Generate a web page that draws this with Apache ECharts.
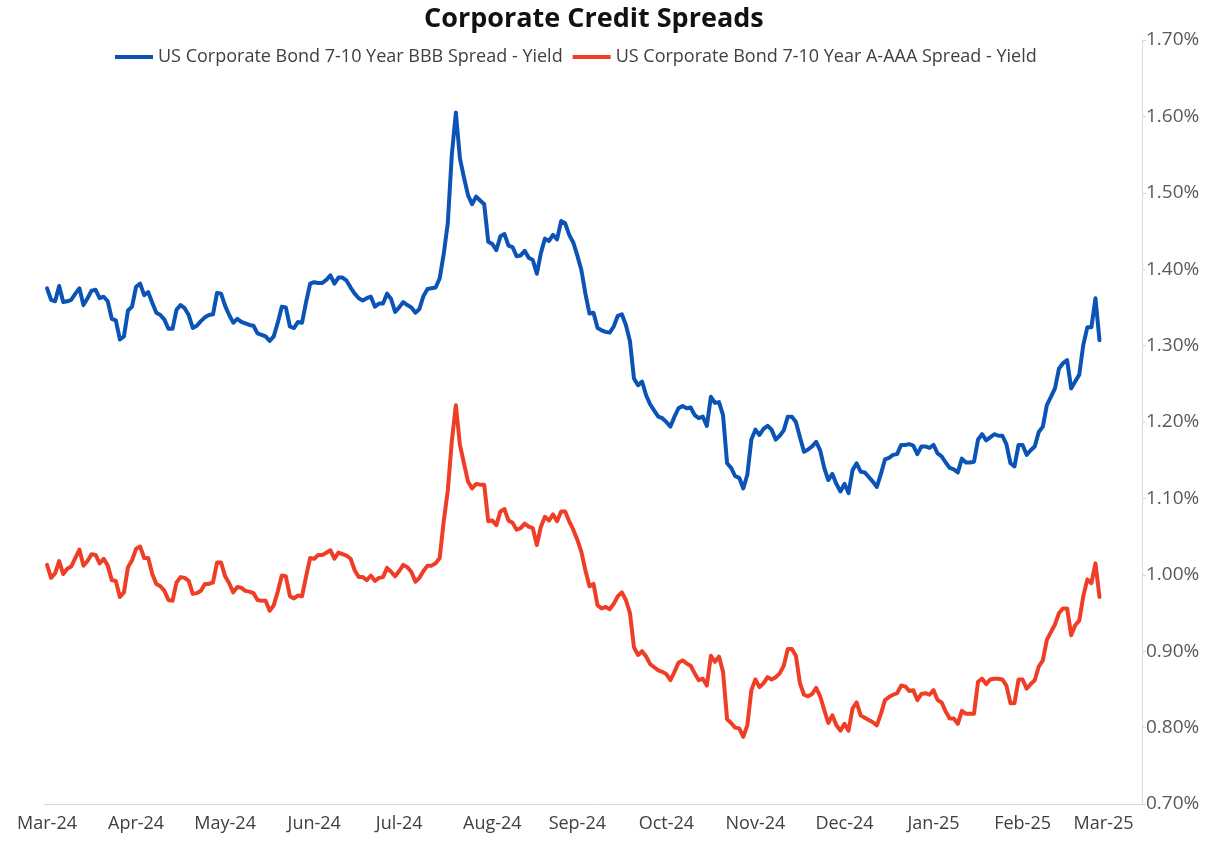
<!DOCTYPE html>
<html>
<head>
<meta charset="utf-8">
<title>Corporate Credit Spreads</title>
<script src="https://cdn.jsdelivr.net/npm/echarts@6/dist/echarts.min.js"></script>
<style>
  html, body { margin: 0; padding: 0; background: #fff; }
  .chart { width: 1210px; height: 843px; }
</style>
</head>
<body>
<div class="chart"></div>
<script>
// axis range (business days, weekends skipped)
var startDay = "2024-03-15";
var endDay = "2025-03-28";
var monthLabels = ["Mar-24", "Apr-24", "May-24", "Jun-24", "Jul-24", "Aug-24", "Sep-24",
  "Oct-24", "Nov-24", "Dec-24", "Jan-25", "Feb-25", "Mar-25"];
var seriesNames = ["US Corporate Bond 7-10 Year BBB Spread - Yield",
  "US Corporate Bond 7-10 Year A-AAA Spread - Yield"];

// BBB spread, % (one value per business day from startDay)
var bbbData = [
  1.375, 1.360, 1.358, 1.378, 1.357, 1.358, 1.360, 1.368, 1.375, 1.353,
  1.362, 1.372, 1.373, 1.362, 1.364, 1.358, 1.335, 1.333, 1.308, 1.312,
  1.346, 1.351, 1.377, 1.381, 1.366, 1.370, 1.356, 1.343, 1.340, 1.334,
  1.322, 1.322, 1.347, 1.353, 1.349, 1.340, 1.323, 1.326, 1.332, 1.337,
  1.340, 1.341, 1.369, 1.368, 1.352, 1.340, 1.330, 1.335, 1.331, 1.329,
  1.327, 1.326, 1.316, 1.314, 1.312, 1.306, 1.312, 1.330, 1.351, 1.350,
  1.325, 1.323, 1.331, 1.330, 1.357, 1.381, 1.383, 1.382, 1.382, 1.386,
  1.392, 1.381, 1.389, 1.389, 1.385, 1.376, 1.368, 1.362, 1.359, 1.362,
  1.364, 1.351, 1.355, 1.355, 1.368, 1.361, 1.344, 1.350, 1.357, 1.353,
  1.350, 1.343, 1.348, 1.365, 1.374, 1.375, 1.376, 1.388, 1.420, 1.460,
  1.550, 1.605, 1.545, 1.520, 1.497, 1.485, 1.495, 1.490, 1.485, 1.436,
  1.433, 1.425, 1.443, 1.446, 1.431, 1.429, 1.417, 1.418, 1.424, 1.415,
  1.412, 1.394, 1.421, 1.440, 1.437, 1.445, 1.439, 1.463, 1.460, 1.445,
  1.435, 1.418, 1.399, 1.368, 1.342, 1.343, 1.323, 1.320, 1.318, 1.317,
  1.325, 1.339, 1.341, 1.327, 1.306, 1.257, 1.248, 1.253, 1.235, 1.223,
  1.215, 1.207, 1.205, 1.200, 1.194, 1.207, 1.218, 1.221, 1.218, 1.219,
  1.209, 1.205, 1.207, 1.195, 1.233, 1.225, 1.226, 1.209, 1.146, 1.140,
  1.129, 1.127, 1.113, 1.131, 1.177, 1.190, 1.183, 1.191, 1.195, 1.190,
  1.177, 1.182, 1.189, 1.207, 1.207, 1.200, 1.180, 1.161, 1.164, 1.168,
  1.174, 1.163, 1.140, 1.124, 1.132, 1.119, 1.109, 1.119, 1.107, 1.137,
  1.146, 1.135, 1.134, 1.128, 1.122, 1.115, 1.132, 1.151, 1.153, 1.157,
  1.158, 1.170, 1.170, 1.171, 1.169, 1.158, 1.168, 1.168, 1.166, 1.170,
  1.159, 1.155, 1.147, 1.140, 1.138, 1.134, 1.152, 1.147, 1.147, 1.148,
  1.177, 1.184, 1.176, 1.180, 1.184, 1.182, 1.182, 1.171, 1.146, 1.142,
  1.170, 1.170, 1.157, 1.163, 1.168, 1.187, 1.194, 1.222, 1.233, 1.244,
  1.270, 1.277, 1.281, 1.244, 1.253, 1.262, 1.301, 1.324, 1.324, 1.362,
  1.307
];

// A-AAA spread, %
var aData = [
  1.013, 0.996, 1.002, 1.018, 1.001, 1.008, 1.011, 1.022, 1.033, 1.012,
  1.018, 1.027, 1.026, 1.015, 1.021, 1.012, 0.993, 0.992, 0.971, 0.977,
  1.010, 1.019, 1.034, 1.037, 1.022, 1.022, 1.001, 0.988, 0.985, 0.979,
  0.967, 0.966, 0.990, 0.997, 0.996, 0.992, 0.975, 0.976, 0.979, 0.988,
  0.988, 0.990, 1.016, 1.016, 0.998, 0.989, 0.977, 0.984, 0.983, 0.979,
  0.978, 0.976, 0.967, 0.966, 0.966, 0.953, 0.960, 0.978, 0.999, 0.998,
  0.972, 0.969, 0.973, 0.972, 0.998, 1.022, 1.021, 1.026, 1.026, 1.029,
  1.032, 1.021, 1.029, 1.027, 1.025, 1.021, 1.006, 0.997, 0.997, 0.993,
  0.999, 0.992, 0.996, 0.997, 1.009, 1.004, 0.998, 1.005, 1.013, 1.010,
  1.004, 0.991, 0.996, 1.005, 1.012, 1.012, 1.015, 1.022, 1.070, 1.110,
  1.175, 1.222, 1.170, 1.146, 1.122, 1.113, 1.119, 1.118, 1.118, 1.070,
  1.071, 1.065, 1.083, 1.086, 1.071, 1.068, 1.059, 1.061, 1.067, 1.063,
  1.061, 1.039, 1.063, 1.076, 1.071, 1.079, 1.070, 1.083, 1.083, 1.070,
  1.059, 1.046, 1.030, 1.006, 0.985, 0.988, 0.960, 0.956, 0.958, 0.955,
  0.962, 0.972, 0.977, 0.967, 0.950, 0.905, 0.895, 0.900, 0.893, 0.883,
  0.879, 0.875, 0.873, 0.870, 0.862, 0.873, 0.885, 0.888, 0.884, 0.881,
  0.871, 0.862, 0.864, 0.855, 0.894, 0.886, 0.893, 0.873, 0.811, 0.806,
  0.800, 0.799, 0.788, 0.803, 0.849, 0.863, 0.853, 0.858, 0.866, 0.863,
  0.866, 0.871, 0.881, 0.903, 0.903, 0.894, 0.858, 0.843, 0.841, 0.844,
  0.852, 0.841, 0.823, 0.806, 0.816, 0.803, 0.796, 0.805, 0.796, 0.825,
  0.833, 0.816, 0.813, 0.810, 0.807, 0.803, 0.818, 0.836, 0.840, 0.843,
  0.845, 0.855, 0.854, 0.848, 0.849, 0.836, 0.844, 0.845, 0.843, 0.849,
  0.836, 0.833, 0.821, 0.812, 0.812, 0.805, 0.822, 0.818, 0.818, 0.818,
  0.860, 0.864, 0.857, 0.863, 0.864, 0.864, 0.863, 0.855, 0.832, 0.832,
  0.863, 0.863, 0.851, 0.857, 0.862, 0.880, 0.888, 0.915, 0.925, 0.935,
  0.950, 0.956, 0.956, 0.921, 0.934, 0.940, 0.972, 0.994, 0.989, 1.015,
  0.971
];

var yTicks = { min: 0.7, max: 1.7, step: 0.1 };

(function () {
  // 工作日列表（类目轴）
  var days = [];
  var d = new Date(startDay + "T00:00:00Z");
  var end = new Date(endDay + "T00:00:00Z");
  while (d <= end) {
    var wd = d.getUTCDay();
    if (wd !== 0 && wd !== 6) days.push(d.toISOString().slice(0, 10));
    d.setUTCDate(d.getUTCDate() + 1);
  }

  // month groups -> tick at first day, label mid-month
  var monthOf = [];
  var firstIdx = [];
  var lastIdx = [];
  var prev = null;
  days.forEach(function (s, i) {
    var key = s.slice(0, 7);
    if (key !== prev) { firstIdx.push(i); prev = key; }
    monthOf.push(firstIdx.length - 1);
    lastIdx[firstIdx.length - 1] = i;
  });
  var tickSet = {};
  var labelSet = {};
  firstIdx.forEach(function (f, m) {
    tickSet[f] = true;
    labelSet[m === 0 ? f : Math.round((f + lastIdx[m]) / 2)] = true;
  });

  var myChart = echarts.init(document.querySelector(".chart"), null, { renderer: "canvas" });
  var font = "'Open Sans', 'Noto Sans', sans-serif";

  var option = {
    animation: false,
    color: ["#0b54b6", "#f03e26"],
    textStyle: { fontFamily: font },
    title: {
      text: "Corporate Credit Spreads",
      left: 419,
      top: 1,
      textStyle: { fontFamily: font, fontSize: 27, fontWeight: "bold", color: "#111" }
    },
    legend: {
      left: 110,
      top: 43,
      icon: "rect",
      itemWidth: 38,
      itemHeight: 4,
      itemGap: 10,
      textStyle: { fontFamily: font, fontSize: 18, color: "#404040" }
    },
    grid: {
      left: 45,
      right: 68,
      top: 40,
      bottom: 39
    },
    xAxis: {
      type: "category",
      data: days,
      boundaryGap: true,
      axisLine: { lineStyle: { color: "#d9d9d9", width: 1 } },
      axisTick: {
        length: 8,
        lineStyle: { color: "#d9d9d9" },
        interval: function (i) { return !!tickSet[i]; }
      },
      axisLabel: {
        interval: function (i) { return !!labelSet[i]; },
        formatter: function (v, i) { return monthLabels[monthOf[i]]; },
        color: "#404040",
        fontSize: 18,
        margin: 11
      },
      splitLine: { show: false }
    },
    yAxis: {
      type: "value",
      position: "right",
      min: yTicks.min,
      max: yTicks.max,
      interval: yTicks.step,
      axisLine: { show: true, lineStyle: { color: "#d9d9d9" } },
      axisTick: { show: true, length: 4, lineStyle: { color: "#d9d9d9" } },
      axisLabel: {
        color: "#595959",
        fontSize: 19,
        margin: 4,
        formatter: function (v) { return v.toFixed(2) + "%"; }
      },
      splitLine: { show: false }
    },
    series: [
      {
        name: seriesNames[0],
        type: "line",
        symbol: "none",
        data: bbbData,
        lineStyle: { width: 4, join: "round", cap: "round" }
      },
      {
        name: seriesNames[1],
        type: "line",
        symbol: "none",
        data: aData,
        lineStyle: { width: 4, join: "round", cap: "round" }
      }
    ]
  };

  myChart.setOption(option);

  window.addEventListener("resize", function () {
    myChart.resize();
  });
})();
</script>
</body>
</html>
